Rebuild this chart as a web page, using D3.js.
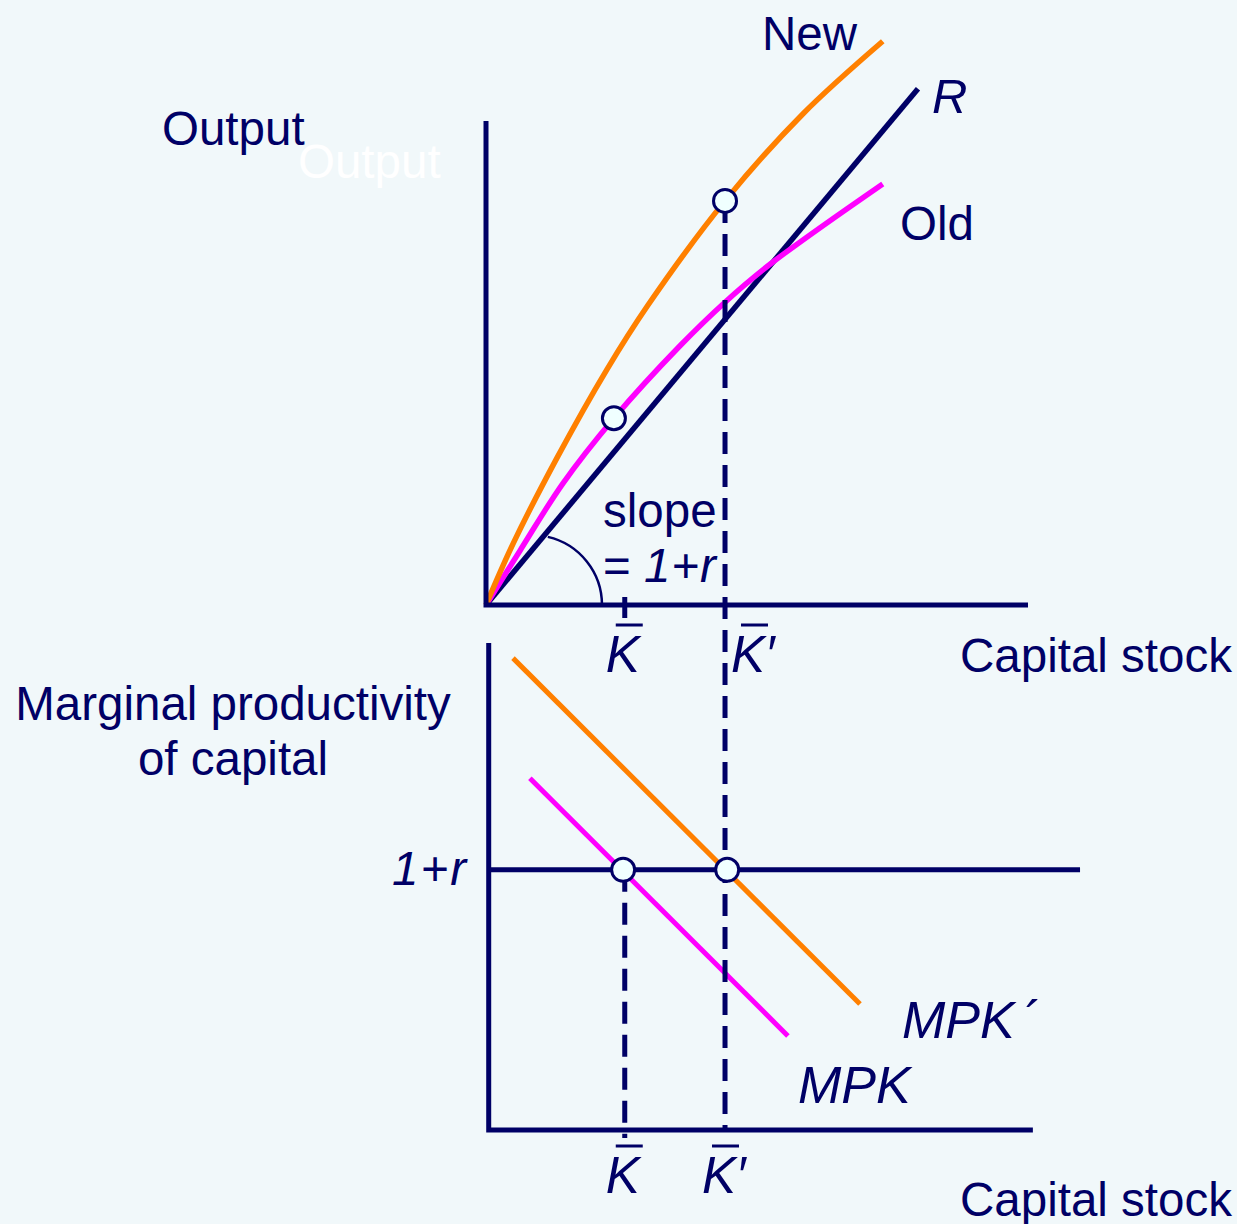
<!DOCTYPE html>
<html>
  <head>
    <title>capital-stock</title>
    <style>
      body { margin: 0; background: #f1f8fa; }
      text { font-family: "Liberation Sans", Arial, sans-serif; }
    </style>
  </head>
  <body>
    <svg width="1237" height="1224" id="mainsvg" style="background-color: #f1f8fa"></svg>
    <script src="https://cdn.jsdelivr.net/npm/d3@7"></script>
    <script>
      // values (capital 0..100, output / MPK 0..100)
      const newK = [0, 4.98, 13.1, 22.3, 29.9, 44.1, 58.5, 73.2];
      const newY = [0, 10.8, 26.0, 41.6, 53.0, 71.4, 86.8, 99.6];
      const oldK = [0, 6.27, 14.2, 23.6, 35.8, 44.1, 52.4, 73.2];
      const oldY = [0, 9.6, 21.5, 33.0, 45.8, 53.5, 60.2, 74.4];
      const rK = [0, 79.7];
      const rY = [0, 91.2];
      const mpkNewK = [4.98, 69.0];
      const mpkNewY = [96.3, 25.7];
      const mpkOldK = [8.1, 55.7];
      const mpkOldY = [71.8, 19.2];
      const rate = 53.1;
      const kBar = 25.6;
      const kBarNew = 44.1;
      const topPoints = [[23.6, 33.0], [44.1, 71.4]];
      const botPoints = [[25.3, rate], [44.5, rate]];

      const navy = "#000066";
      const orange = "#ff8000";
      const magenta = "#ff00ff";
      const fs = 47.5;

      const svg = d3.select("#mainsvg");
      const xScale = d3.scaleLinear().domain([0, 100]).range([486, 1028]);
      const yTop = d3.scaleLinear().domain([0, 100]).range([605, 39]);
      const yBot = d3.scaleLinear().domain([0, 100]).range([1130, 640]);

      const zip = (xs, ys) => xs.map((x, i) => [x, ys[i]]);
      const lineTop = d3.line().x((d) => xScale(d[0])).y((d) => yTop(d[1]));
      const curveTop = d3.line().x((d) => xScale(d[0])).y((d) => yTop(d[1])).curve(d3.curveCatmullRom.alpha(0.5));
      const lineBot = d3.line().x((d) => xScale(d[0])).y((d) => yBot(d[1]));

      const g = svg.append("g");

      // ghost label
      g.append("text").attr("x", 298).attr("y", 178).attr("font-size", fs).attr("fill", "#ffffff").text("Output");

      /* top panel */
      g.append("path").datum(zip(rK, rY)).attr("d", lineTop).attr("stroke", navy).attr("stroke-width", 5.5).attr("fill", "none");
      g.append("path").datum(zip(oldK, oldY)).attr("d", curveTop).attr("stroke", magenta).attr("stroke-width", 5.5).attr("fill", "none");
      g.append("path").datum(zip(newK, newY)).attr("d", curveTop).attr("stroke", orange).attr("stroke-width", 5.5).attr("fill", "none");

      // axes
      g.append("path").datum([[0, 85.5], [0, 0], [100, 0]]).attr("d", lineTop)
        .attr("stroke", navy).attr("stroke-width", 5).attr("fill", "none");
      g.append("path").datum([[0.5, 99.4], [0.5, 0], [100.9, 0]]).attr("d", lineBot)
        .attr("stroke", navy).attr("stroke-width", 5).attr("fill", "none");

      // slope arc
      const arcCx = xScale(8.5), arcCy = yTop(0), arcR = xScale(8.5 + 12.9) - xScale(8.5);
      const p = d3.path();
      p.arc(arcCx, arcCy, arcR, -Math.PI / 2 + (13 * Math.PI) / 180, 0);
      g.append("path").attr("d", p.toString()).attr("stroke", navy).attr("stroke-width", 2.5).attr("fill", "none");

      // K-bar tick on top axis
      g.append("line").attr("x1", xScale(kBar)).attr("x2", xScale(kBar))
        .attr("y1", yTop(0) - 8).attr("y2", yTop(0) + 13).attr("stroke", navy).attr("stroke-width", 5);

      /* bottom panel */
      g.append("path").datum([[0.5, rate], [109.6, rate]]).attr("d", lineBot)
        .attr("stroke", navy).attr("stroke-width", 5).attr("fill", "none");
      g.append("path").datum(zip(mpkNewK, mpkNewY)).attr("d", lineBot).attr("stroke", orange).attr("stroke-width", 5).attr("fill", "none");
      g.append("path").datum(zip(mpkOldK, mpkOldY)).attr("d", lineBot).attr("stroke", magenta).attr("stroke-width", 5).attr("fill", "none");

      // dashed guides
      g.append("line").attr("x1", xScale(kBarNew)).attr("x2", xScale(kBarNew))
        .attr("y1", yTop(71.4)).attr("y2", yBot(0))
        .attr("stroke", navy).attr("stroke-width", 5).attr("stroke-dasharray", "22,11");
      g.append("line").attr("x1", xScale(kBar)).attr("x2", xScale(kBar))
        .attr("y1", yBot(rate)).attr("y2", yBot(0) + 8)
        .attr("stroke", navy).attr("stroke-width", 5).attr("stroke-dasharray", "22,11");

      // circles
      g.selectAll(".ct").data(topPoints).join("circle").attr("class", "ct")
        .attr("cx", (d) => xScale(d[0])).attr("cy", (d) => yTop(d[1])).attr("r", 11.5)
        .attr("fill", "#f0ffff").attr("stroke", navy).attr("stroke-width", 3);
      g.selectAll(".cb").data(botPoints).join("circle").attr("class", "cb")
        .attr("cx", (d) => xScale(d[0])).attr("cy", (d) => yBot(d[1])).attr("r", 11.5)
        .attr("fill", "#f0ffff").attr("stroke", navy).attr("stroke-width", 3);

      /* labels */
      const txt = (x, y, s, opts = {}) =>
        g.append("text").attr("x", x).attr("y", y).attr("font-size", opts.size || fs)
          .attr("fill", navy).attr("font-style", opts.italic ? "italic" : "normal")
          .attr("text-anchor", opts.anchor || "start").text(s);

      txt(162, 145, "Output");
      txt(762, 50, "New");
      txt(932, 113, "R", { italic: true, size: 49 });
      txt(900, 240, "Old");
      txt(603, 527, "slope");
      const sl = g.append("text").attr("x", 603).attr("y", 582).attr("font-size", fs).attr("fill", navy);
      sl.append("tspan").text("= ");
      sl.append("tspan").attr("font-style", "italic").attr("letter-spacing", 1).text("1+r");

      txt(960, 672, "Capital stock");
      txt(960, 1216, "Capital stock");
      txt(233, 720, "Marginal productivity", { anchor: "middle" });
      txt(233, 775, "of capital", { anchor: "middle" });
      txt(468, 885, "1+r", { italic: true, anchor: "end" }).attr("letter-spacing", 2);
      const mp = txt(902, 1038, "MPK", { italic: true, size: 52 });
      mp.append("tspan").attr("dx", 10).attr("font-style", "normal").text("\u00b4");
      txt(798, 1103, "MPK", { italic: true, size: 52 });

      // K-bar labels with overbar
      const kLabel = (x, y, prime) => {
        txt(x, y, prime ? "K\u2032" : "K", { italic: true, size: 51 });
        g.append("line").attr("x1", x + 10).attr("x2", x + 37).attr("y1", y - 47).attr("y2", y - 47)
          .attr("stroke", navy).attr("stroke-width", 3);
      };
      kLabel(xScale(kBar) - 19, 672, false);
      kLabel(xScale(kBarNew) + 6, 672, true);
      kLabel(xScale(kBar) - 19, 1193, false);
      kLabel(xScale(kBarNew) - 23, 1193, true);
    </script>
  </body>
</html>
